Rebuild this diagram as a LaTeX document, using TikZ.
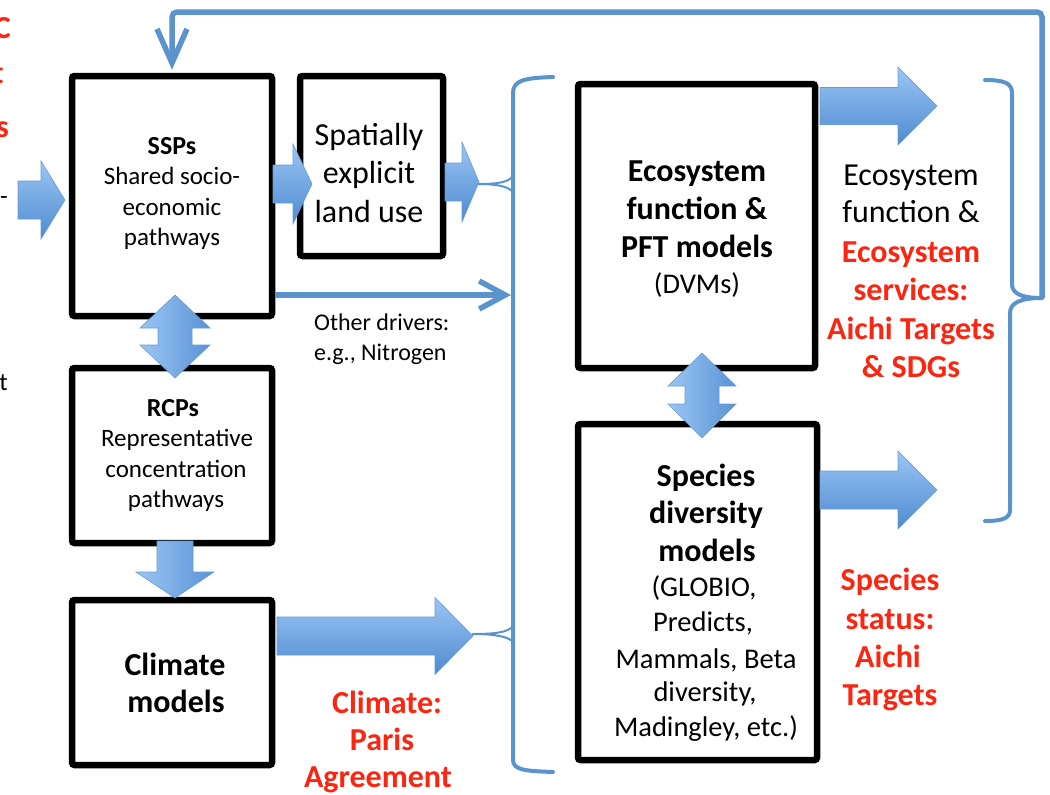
\documentclass[tikz,border=0pt]{standalone}
\usepackage{fontspec}
\setmainfont{Carlito}
\usetikzlibrary{arrows.meta}
\definecolor{flow}{RGB}{91,148,205}
\definecolor{arrlight}{RGB}{155,198,244}
\definecolor{arrdark}{RGB}{78,138,208}
\definecolor{arredge}{RGB}{105,155,210}
\definecolor{alert}{RGB}{250,38,18}

% right-pointing block arrow: tail x, head base x, tip x, centre y, shaft half height, head half height
\newcommand\rarrow[6]{%
  \shade[hfill] (#1,#4-#5) -- (#2,#4-#5) -- (#2,#4-#6) -- (#3,#4) -- (#2,#4+#6)
    -- (#2,#4+#5) -- (#1,#4+#5) -- cycle;}
% downward block arrow: centre x, tail y, head base y, tip y, shaft half width, head half width
\newcommand\darrow[6]{%
  \shade[vfill] (#1-#5,#2) -- (#1+#5,#2) -- (#1+#5,#3) -- (#1+#6,#3) -- (#1,#4)
    -- (#1-#6,#3) -- (#1-#5,#3) -- cycle;}
% two-headed vertical block arrow: centre x, top tip, top head base, bottom head base, bottom tip, shaft half, head half
\newcommand\udarrow[7]{%
  \shade[vfill] (#1,#2) -- (#1+#7,#3) -- (#1+#6,#3) -- (#1+#6,#4) -- (#1+#7,#4) -- (#1,#5)
    -- (#1-#7,#4) -- (#1-#6,#4) -- (#1-#6,#3) -- (#1-#7,#3) -- cycle;}

\begin{document}
\begin{tikzpicture}[x=1pt,y=-1pt,
  box/.style={draw=black, line width=6.5pt, rounded corners=2.5pt, fill=white, inner sep=0pt},
  hfill/.style={top color=arrlight, bottom color=arrdark, draw=arredge, line width=0.6pt},
  vfill/.style={left color=arrlight, right color=arrdark!85!arrlight, draw=arredge, line width=0.6pt},
  flowline/.style={draw=flow, line width=5.5pt},
  brace/.style={draw=flow, line width=4pt, line cap=round},
  cusp/.style={draw=flow, line width=2pt},
  txt/.style={anchor=base, inner sep=0pt},
  bb/.style={txt, font=\fontsize{32}{38}\selectfont\bfseries},
  rb/.style={txt, font=\fontsize{32}{38}\selectfont},
  bs/.style={txt, font=\fontsize{26}{30}\selectfont\bfseries},
  rs/.style={txt, font=\fontsize{25}{30}\selectfont},
  rm/.style={txt, font=\fontsize{28.5}{35}\selectfont},
  rn/.style={txt, font=\fontsize{24}{29}\selectfont},
  red/.style={bb, text=alert}
]
\useasboundingbox (0,0) rectangle (1050,795);
\clip (0,0) rectangle (1050,795);

% ---------- model boxes ----------
\node[box, minimum width=200pt, minimum height=240pt] (ssp)  at (172,196) {};
\node[box, minimum width=143pt, minimum height=180pt] (land) at (371.5,166) {};
\node[box, minimum width=200pt, minimum height=175pt] (rcp)  at (172,455.5) {};
\node[box, minimum width=200pt, minimum height=165pt] (clim) at (172,682.5) {};
\node[box, minimum width=237pt, minimum height=284pt] (eco)  at (696.5,226) {};
\node[box, minimum width=239pt, minimum height=336pt] (spec) at (697.5,592) {};

% ---------- braces ----------
\coordinate (lbtop) at (553,77);
\coordinate (lbbot) at (553,772);
\coordinate (lbland) at (478,184);
\coordinate (lbclim) at (472,634);
\coordinate (drv) at (511,295);
\path[brace] (lbtop) .. controls (525,78) and (513,80) .. (513,93)
  -- (513,760) .. controls (513,770) and (525,771) .. (lbbot);
\path[cusp] (513,176) .. controls (508,183) and (495,184) .. (lbland)
  .. controls (495,184) and (508,186) .. (513,192);
\path[cusp] (513,626) .. controls (508,633) and (492,634) .. (lbclim)
  .. controls (492,634) and (508,636) .. (513,642);

\coordinate (rbtop) at (985,80);
\coordinate (rbbot) at (985,521);
\coordinate (rbtip) at (1042,298);
\path[brace] (rbtop) .. controls (1004,80) and (1012,83) .. (1012,93)
  -- (1012,284) .. controls (1012,293) and (1020,298) .. (rbtip);
\path[brace] (rbtip) .. controls (1020,298) and (1010,303) .. (1010,313)
  -- (1010,510) .. controls (1010,518) and (1003,521) .. (rbbot);

% ---------- feedback and driver lines ----------
\path[flowline, rounded corners=5pt, -{Straight Barb[length=34pt, width=30pt]}]
  (rbtip) -- (1042,12) -- (172,12) -- ([yshift=3pt]ssp.north);
\path[flowline, -{Straight Barb[length=26pt, width=28pt]}] (ssp.east |- drv) -- (drv);

% ---------- block arrows ----------
\rarrow{18}{41}{65}{200}{19}{39}
\rarrow{273}{293}{312}{184}{19}{40}
\rarrow{445}{462}{479}{182}{19}{40}
\rarrow{277}{435}{473}{636}{19}{38.5}
\rarrow{820}{898}{937}{106}{18.5}{39}
\rarrow{820}{898}{937}{490}{19}{39}
\udarrow{175}{295}{328}{345}{378}{17}{35}
\udarrow{702}{353}{386}{404}{438}{17}{34}
\darrow{175}{541}{572}{598}{18}{39}

% ---------- texts in boxes ----------
\node[bs] (sspT) at (172,154) {SSPs};
\node[rs] (ssp1) at (172,184) {Shared socio-};
\node[rs] (ssp2) at (172,215) {economic};
\node[rs] (ssp3) at (172,245) {pathways};

\node[rb] (lu1) at (369,145) {Spatially};
\node[rb] (lu2) at (369,183) {explicit};
\node[rb] (lu3) at (369,222) {land use};

\node[bb] (eco1) at (697,181) {Ecosystem};
\node[bb] (eco2) at (697,219) {function \&};
\node[bb] (eco3) at (697,257) {PFT models};
\node[rm] (eco4) at (697,293) {(DVMs)};

\node[rn, anchor=base west] (od1) at (314,330) {Other drivers:};
\node[rn, anchor=base west] (od2) at (314,360) {e.g., Nitrogen};

\node[bs] (rcpT) at (173,416) {RCPs};
\node[rs] (rcp1) at (177,446) {Representative};
\node[rs] (rcp2) at (176,477) {concentration};
\node[rs] (rcp3) at (176,507) {pathways};

\node[bb] (cl1) at (175,675) {Climate};
\node[bb] (cl2) at (176,712) {models};

\node[bb] (sp1) at (706,486) {Species};
\node[bb] (sp2) at (706,523) {diversity};
\node[bb] (sp3) at (707,561) {models};
\node[rm] (sp4) at (704,596) {(GLOBIO,};
\node[rm] (sp5) at (703,631) {Predicts,};
\node[rm] (sp6) at (706,668) {Mammals, Beta};
\node[rm] (sp7) at (705,701) {diversity,};
\node[rm] (sp8) at (706,736) {Madingley, etc.)};

% ---------- outcome texts ----------
\node[rb] (es1) at (911,185) {Ecosystem};
\node[rb] (es2) at (911,222) {function \&};
\node[red] (es3) at (911,262) {Ecosystem};
\node[red] (es4) at (911,300) {services:};
\node[red] (es5) at (911,339) {Aichi Targets};
\node[red] (es6) at (911,377) {\& SDGs};

\node[red] (ss1) at (890,590) {Species};
\node[red] (ss2) at (890,629) {status:};
\node[red] (ss3) at (888,667) {Aichi};
\node[red] (ss4) at (890,705) {Targets};

\node[red] (cp1) at (387,713) {Climate:};
\node[red] (cp2) at (382,750) {Paris};
\node[red] (cp3) at (378,787) {Agreement};

% ---------- cut-off text at the left edge ----------
\node[red, anchor=base east] (lf1) at (11,38) {C};
\node[red, anchor=base east] (lf2) at (4,83) {t};
\node[red, anchor=base east] (lf3) at (9,137) {s};
\node[rs, anchor=base east] (lf4) at (8,204) {-};
\node[rs, anchor=base east] (lf5) at (8,390) {t};
\end{tikzpicture}
\end{document}
